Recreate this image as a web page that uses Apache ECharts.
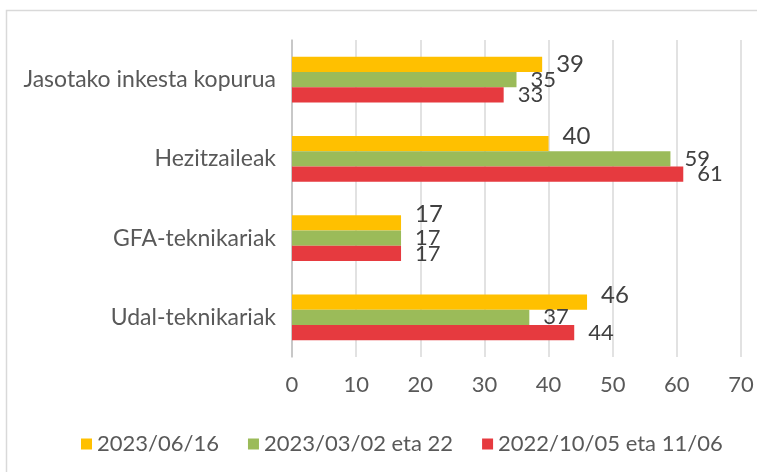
<!DOCTYPE html>
<html>
  <head>
    <meta charset="utf-8" />
    <title></title>
    <script src="https://cdn.jsdelivr.net/npm/echarts@6/dist/echarts.min.js"></script>
    <style>
      html, body { margin: 0; padding: 0; background: #fff; }
      #bar { width: 757px; height: 472px; }
    </style>
  </head>
  <body>
    <div id="bar"></div>
    <script>
      // datuak
      var categories = ['Jasotako inkesta kopurua', 'Hezitzaileak', 'GFA-teknikariak', 'Udal-teknikariak'];
      var seriesNames = ['2023/06/16', '2023/03/02 eta 22', '2022/10/05 eta 11/06'];
      var v20230616 = [39, 40, 17, 46];
      var v20230302 = [35, 59, 17, 37];
      var v20221005 = [33, 61, 17, 44];

      // yellow labels are nudged up by Excel where they'd collide
      var yellowShift = [0, -7, -9, -7];

      var font = 'Lato, "Open Sans", sans-serif';
      var myChart1 = echarts.init(document.getElementById('bar'));

      function labelOf(size, shift) {
        return {
          show: true,
          position: 'right',
          distance: 14,
          fontFamily: font,
          fontSize: size,
          color: '#404040',
          offset: [0, shift || 0]
        };
      }

      var option = {
        animation: false,
        textStyle: { fontFamily: font },
        graphic: [{
          type: 'rect',
          shape: { x: 6.5, y: 10.5, width: 800, height: 500 },
          style: { fill: 'none', stroke: '#d9d9d9', lineWidth: 1.5 },
          silent: true
        }],
        legend: {
          top: 428,
          left: 76,
          icon: 'rect',
          itemWidth: 11,
          itemHeight: 11,
          itemGap: 29,
          textStyle: { fontFamily: font, fontSize: 22, color: '#595959' },
          data: seriesNames
        },
        grid: { left: 292, right: 16, top: 40, bottom: 115 },
        xAxis: {
          type: 'value',
          min: 0,
          max: 70,
          interval: 10,
          axisLine: { show: false },
          axisTick: { show: false },
          axisLabel: { fontFamily: font, fontSize: 22, color: '#595959', margin: 17 },
          splitLine: { lineStyle: { color: '#d9d9d9', width: 1.5 } }
        },
        yAxis: {
          type: 'category',
          inverse: true,
          data: categories,
          axisLine: { lineStyle: { color: '#bfbfbf', width: 1.5 } },
          axisTick: { length: 6, lineStyle: { color: '#bfbfbf', width: 1.5 } },
          axisLabel: { fontFamily: font, fontSize: 23, color: '#595959', margin: 16 }
        },
        series: [
          {
            name: seriesNames[0], type: 'bar', barGap: '0%', barCategoryGap: '42%',
            itemStyle: { color: '#ffc000' },
            data: v20230616.map(function (v, i) { return { value: v, label: labelOf(24, yellowShift[i]) }; })
          },
          {
            name: seriesNames[1], type: 'bar', barGap: '0%', barCategoryGap: '42%',
            itemStyle: { color: '#9bbb59' },
            label: labelOf(22),
            data: v20230302
          },
          {
            name: seriesNames[2], type: 'bar', barGap: '0%', barCategoryGap: '42%',
            itemStyle: { color: '#e63a3f' },
            label: labelOf(22),
            data: v20221005
          }
        ]
      };
      myChart1.setOption(option);
    </script>
  </body>
</html>
